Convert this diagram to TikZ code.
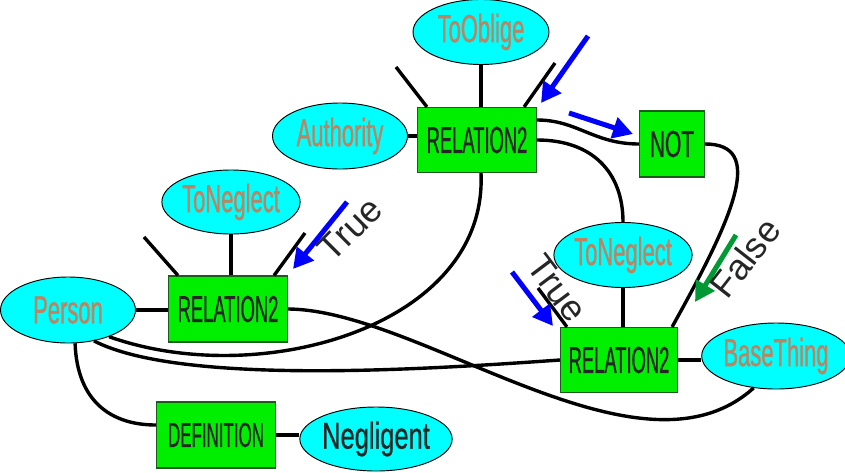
\documentclass[tikz,border=0pt]{standalone}
\usepackage{fontspec}
\setmainfont{Liberation Sans}
\newfontfamily\conceptfont[FakeStretch=0.56,FakeBold=0.6]{Liberation Sans}
\newfontfamily\boxfont[FakeStretch=0.49,FakeBold=0.6]{Liberation Sans}
\newfontfamily\negfont[FakeStretch=0.68,FakeBold=0.6]{Liberation Sans}
\usepackage{xcolor}
\definecolor{aquafill}{HTML}{00FFFF}
\definecolor{clay}{HTML}{C0825F}
\definecolor{boxgreen}{HTML}{00EE00}
\definecolor{boxedge}{HTML}{1E5A1E}
\definecolor{hintblue}{HTML}{0000FF}
\definecolor{hintgreen}{HTML}{009933}
\usetikzlibrary{arrows.meta,shapes.geometric,calc}
\tikzset{
  concept/.style={ellipse,draw=black,line width=0.8pt,fill=aquafill,text=clay,
                  inner sep=0pt,minimum width=4.08cm,minimum height=1.95cm,
                  font=\conceptfont\fontsize{33.5}{35}\selectfont},
  relbox/.style ={rectangle,draw=boxedge,line width=1pt,fill=boxgreen,text=black!85,
                  inner sep=0pt,minimum width=3.57cm,minimum height=1.95cm,
                  font=\boxfont\fontsize{32}{34}\selectfont},
  lbl/.style    ={font=\fontsize{31}{33}\selectfont,text=black!85,inner sep=0pt},
  link/.style   ={draw=black,line width=2.9pt},
  hint/.style   ={-{Triangle[length=17pt,width=18pt]},line width=4.3pt,draw=hintblue},
  hintf/.style  ={hint,draw=hintgreen},
}

\begin{document}
\begin{tikzpicture}[x=0.03cm,y=-0.03cm]
\useasboundingbox (0,0) rectangle (845,472);
% concepts
\node[concept] (oblige) at (481,32) {ToOblige};
\node[concept,minimum width=4.05cm,minimum height=1.98cm] (authority) at (340,136) {Authority};
\node[concept] (negR) at (623,255) {ToNeglect};
\node[concept,minimum width=3.96cm,minimum height=1.98cm] (base) at (776,356) {BaseThing};
\node[concept,minimum width=4.05cm,minimum height=1.98cm] (person) at (68,310) {Person};
\node[concept,minimum height=1.92cm] (negL) at (231,202) {ToNeglect};
\node[concept,minimum width=4.05cm,minimum height=1.92cm,text=black!85,
      font=\negfont\fontsize{32}{34}\selectfont] (negl) at (376,439) {Negligent};
% relations
\node[relbox] (relA) at (477,140) {RELATION2};
\node[relbox,minimum width=1.95cm,minimum height=1.98cm,
      font=\conceptfont\fontsize{32}{34}\selectfont] (notb) at (672,144) {NOT};
\node[relbox,minimum width=3.51cm] (relC) at (619,360) {RELATION2};
\node[relbox,minimum height=1.98cm] (relB) at (228,309) {RELATION2};
\node[relbox,minimum height=1.98cm,font=\boxfont\fontsize{29.5}{31}\selectfont] (defn) at (216,435) {DEFINITION};
% open argument stubs
\coordinate (sA1) at (396,67);
\coordinate (sA2) at (555,63);
\coordinate (sB1) at (144,237);
\coordinate (sB2) at (305,233);
\coordinate (sC1) at (538,288);
\draw[link] (sA1) -- ([xshift=0.3cm]relA.north west);
\draw[link] (sA2) -- ([xshift=-0.39cm]relA.north east);
\draw[link] (sB1) -- ([xshift=0.3cm]relB.north west);
\draw[link] (sB2) -- ([xshift=-0.42cm]relB.north east);
\draw[link] (sC1) -- ([xshift=0.21cm]relC.north west);
% links
\draw[link] (oblige.south) -- (oblige.south |- relA.north);
\draw[link] (authority.east) -- (authority.east -| relA.west);
\draw[link] ([yshift=0.6cm]relA.east) .. controls +(40,0) and +(-45,0) .. (notb.west);
\draw[link] (relA.east) .. controls +(55,0) and +(0,-50) .. (negR.north);
\draw[link] (notb.east) .. controls +(60,0) and +(63,-113) .. ([xshift=-0.18cm]relC.north east);
\draw[link] (negR.south) -- (negR.south |- relC.north);
\draw[link] (relC.east) -- (relC.east -| base.west);
\draw[link] (negL.south) -- (negL.south |- relB.north);
\draw[link] (person.east) -- (person.east -| relB.west);
\draw[link] (person.-78) .. controls +(2,57) and +(-46,0) .. ([yshift=0.3cm]defn.west);
\draw[link] (defn.east) -- (defn.east -| negl.west);
\draw[link] (person.-33) .. controls +(151,54) and +(7,153) .. ([xshift=0.12cm]relA.south);
\draw[link] (person.-50) .. controls +(86,44) and +(-141,10) .. (relC.west);
\draw[link] (relB.east) .. controls +(133,1) and +(-114,103) .. (base.235);
% hints
\coordinate (hA0) at (588,36);  \coordinate (hA1) at (541,103);
\coordinate (hN0) at (569,113); \coordinate (hN1) at (633,134);
\coordinate (hB0) at (347,202); \coordinate (hB1) at (293,269);
\coordinate (hC0) at (512,272); \coordinate (hC1) at (553,326);
\coordinate (hF0) at (736,235); \coordinate (hF1) at (695,302);
\draw[hint] (hA0) -- (hA1);
\draw[hint] (hN0) -- (hN1);
\draw[hint] (hB0) -- (hB1);
\draw[hint] (hC0) -- (hC1);
\draw[hintf] (hF0) -- (hF1);
\node[lbl,rotate=45] (trueB) at (350,229) {True};
\node[lbl,rotate=-53] (trueC) at (557,288) {True};
\node[lbl,rotate=52] (falseN) at (745,258) {False};
\end{tikzpicture}
\end{document}
